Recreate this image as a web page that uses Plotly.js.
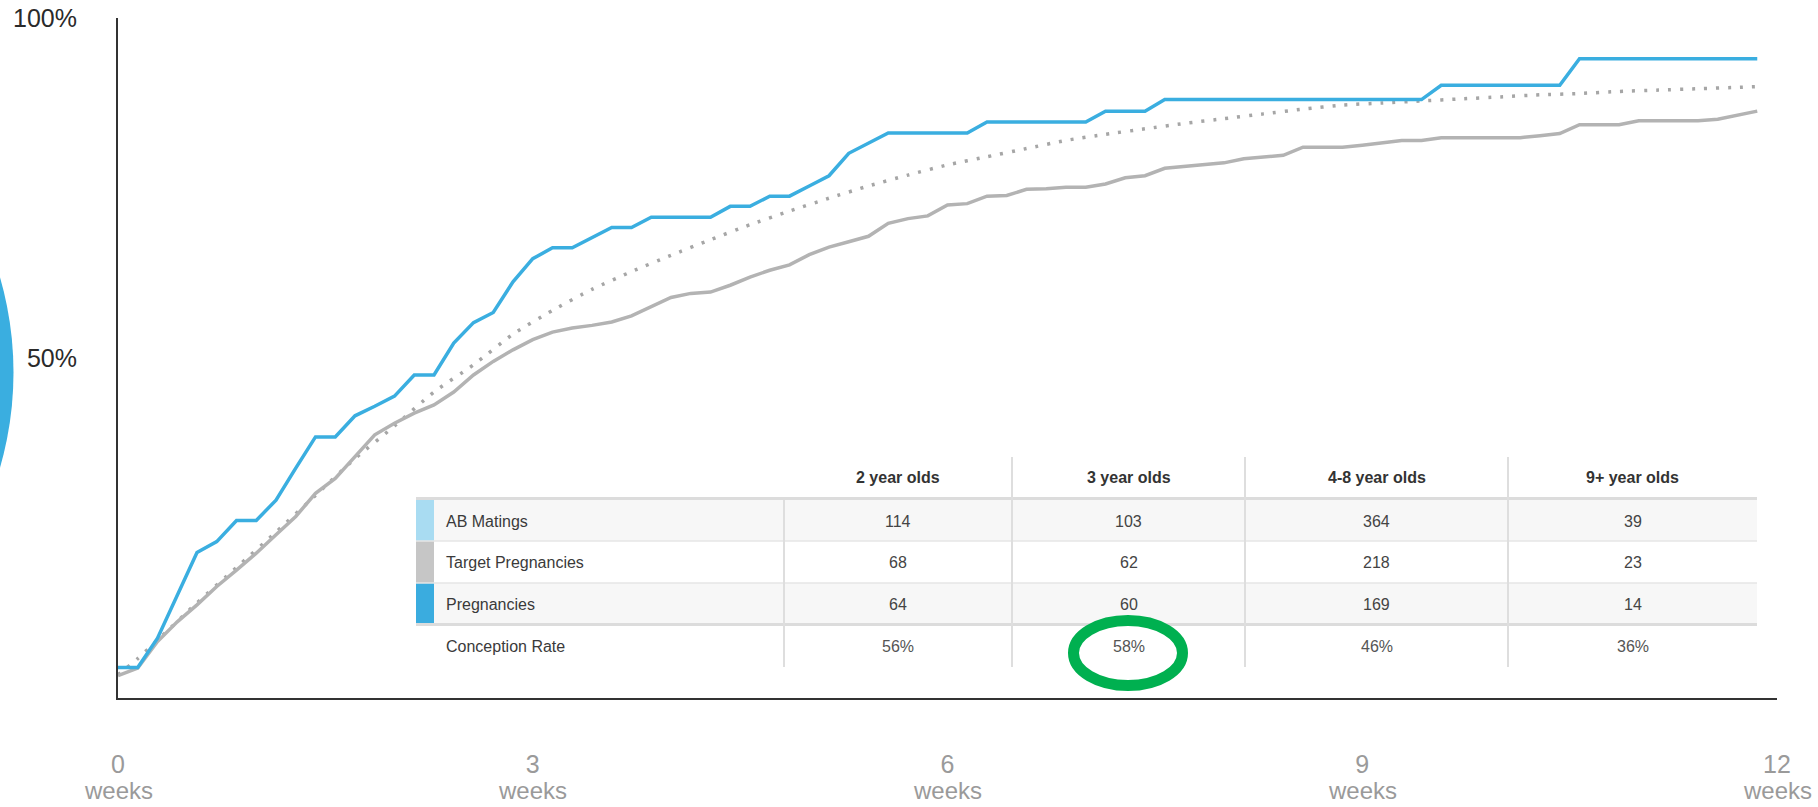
<!DOCTYPE html>
<html>
<head>
<meta charset="utf-8">
<script src="https://cdn.plot.ly/plotly-3.0.1.min.js"></script>
<style>
  html, body { margin: 0; padding: 0; background: #ffffff; }
  #chart { width: 1818px; height: 807px; }
</style>
</head>
<body>
<div id="chart"></div>
<script>
// ---------------- DATA ----------------
// daily cumulative percentages, day 0 .. day 83
const pregnanciesPct = [4.5,4.5,8.8,15.1,21.4,23.0,26.1,26.1,29.1,33.8,
  38.4,38.4,41.5,42.9,44.4,47.5,47.5,52.2,55.2,56.7,
  61.2,64.6,66.2,66.2,67.7,69.2,69.2,70.7,70.7,70.7,
  70.7,72.3,72.3,73.8,73.8,75.3,76.8,80.1,81.6,83.1,
  83.1,83.1,83.1,83.1,84.7,84.7,84.7,84.7,84.7,84.7,
  86.3,86.3,86.3,88.0,88.0,88.0,88.0,88.0,88.0,88.0,
  88.0,88.0,88.0,88.0,88.0,88.0,88.0,90.1,90.1,90.1,
  90.1,90.1,90.1,90.1,94.0,94.0,94.0,94.0,94.0,94.0,
  94.0,94.0,94.0,94.0];

const targetPct = [3.3,4.4,8.3,11.2,13.7,16.4,18.8,21.3,24.0,26.7,
  30.1,32.3,35.5,38.7,40.4,41.9,43.1,45.0,47.5,49.5,
  51.2,52.7,53.8,54.4,54.8,55.3,56.2,57.5,58.9,59.5,
  59.7,60.7,61.9,62.9,63.7,65.2,66.3,67.1,67.9,69.8,
  70.5,70.9,72.5,72.7,73.8,73.9,74.8,74.9,75.1,75.1,
  75.6,76.5,76.8,77.9,78.2,78.5,78.7,79.3,79.5,79.8,
  81.0,81.0,81.0,81.3,81.7,82.0,82.0,82.4,82.4,82.4,
  82.4,82.4,82.7,83.0,84.3,84.3,84.3,84.9,84.9,84.9,
  84.9,85.1,85.7,86.3];

const benchmarkDays = [0,1,2,4,6,8,10,12,14,16,18,20,22,24,26,28,30,32,34,36,38,40,42,
  44,46,48,50,52,54,56,58,60,62,64,66,68,70,72,74,76,78,80,82,83];
const benchmarkPct = [3.4,5.8,8.5,14.0,19.2,24.4,29.8,35.2,40.0,45.0,49.0,53.5,57.0,
  60.1,62.7,65.1,67.4,69.6,71.6,73.5,75.3,76.9,78.4,
  79.6,80.8,82.0,82.9,83.7,84.5,85.2,85.9,86.6,87.2,
  87.5,87.8,88.1,88.4,88.7,88.9,89.2,89.4,89.6,89.8,89.9];

const weekTicks = [0, 3, 6, 9, 12];
const weekTickText = ['0', '3', '6', '9', '12'];
const weekUnit = 'weeks';
const pctTicks = [50, 100];
const pctTickText = ['50%', '100%'];

const ageGroups = ['2 year olds', '3 year olds', '4-8 year olds', '9+ year olds'];
const rowLabels = ['AB Matings', 'Target Pregnancies', 'Pregnancies', 'Conception Rate'];
const abMatings = [114, 103, 364, 39];
const targetPregnancies = [68, 62, 218, 23];
const pregnancies = [64, 60, 169, 14];
const conceptionRate = [56, 58, 46, 36];
const highlightedAgeGroup = '3 year olds';

// ---------------- STYLE / LAYOUT ----------------
const FONT = 'Liberation Sans, Arial, Helvetica, sans-serif';
const BLUE = '#3aaee0';
const GRAY = '#b3b3b3';
const SWATCH = ['#a9dcf2', '#c6c6c6', '#3aacdf', null];

const M = { l: 118, r: 41, t: 18, b: 109 };
const PW = 1818 - M.l - M.r;
const PH = 807 - M.t - M.b;
const px = v => (v - M.l) / PW;            // pixel x -> paper x
const py = v => (M.t + PH - v) / PH;       // pixel y -> paper y

const toWeeks = d => d / 7;
const dayIndex = pregnanciesPct.map((_, i) => i);

const traces = [
  {
    x: benchmarkDays.map(toWeeks), y: benchmarkPct, type: 'scatter', mode: 'lines',
    line: { color: '#a6a6a6', width: 3.5, dash: '3px,9px', shape: 'spline', smoothing: 0.6 },
    hoverinfo: 'skip', showlegend: false
  },
  {
    x: dayIndex.map(toWeeks), y: targetPct, type: 'scatter', mode: 'lines',
    line: { color: GRAY, width: 3.5 }, hoverinfo: 'skip', showlegend: false
  },
  {
    x: dayIndex.map(toWeeks), y: pregnanciesPct, type: 'scatter', mode: 'lines',
    line: { color: BLUE, width: 3.5 }, hoverinfo: 'skip', showlegend: false
  }
];

// table geometry (pixels)
const TB = {
  left: 416, swR: 434, right: 1757,
  headTop: 457, headLine: 498.5,
  rows: [[500, 541], [541, 583], [583, 623], [626, 667]],
  thickLine: 624.5, bottom: 667,
  colEdges: [784, 1012, 1245, 1508, 1757],
  labelX: 444, headY: 477, rowY: [521, 562, 604, 646.5]
};

const shapes = [];
const annotations = [];

// decorative partial circle at far left
shapes.push({ type: 'circle', xref: 'paper', yref: 'paper', layer: 'below',
  x0: px(-671), x1: px(13.5), y0: py(715), y1: py(30),
  fillcolor: BLUE, line: { width: 0 } });

// row shading + swatches
TB.rows.forEach((r, i) => {
  if (i === 0 || i === 2) {
    shapes.push({ type: 'rect', xref: 'paper', yref: 'paper',
      x0: px(TB.swR), x1: px(TB.right), y0: py(r[1]), y1: py(r[0]),
      fillcolor: '#f7f7f7', line: { width: 0 } });
  }
  if (SWATCH[i]) {
    shapes.push({ type: 'rect', xref: 'paper', yref: 'paper',
      x0: px(TB.left), x1: px(TB.swR), y0: py(r[1]), y1: py(r[0]),
      fillcolor: SWATCH[i], line: { width: 0 } });
  }
});
// horizontal rules
const hline = (y, w, c) => shapes.push({ type: 'line', xref: 'paper', yref: 'paper',
  x0: px(TB.left), x1: px(TB.right), y0: py(y), y1: py(y), line: { color: c, width: w } });
hline(TB.headLine, 3, '#dcdcdc');
hline(TB.rows[0][1], 1.5, '#e6e6e6');
hline(TB.rows[1][1], 1.5, '#e6e6e6');
hline(TB.thickLine, 3, '#dcdcdc');
// vertical rules
TB.colEdges.slice(0, 4).forEach((x, i) => {
  shapes.push({ type: 'line', xref: 'paper', yref: 'paper',
    x0: px(x), x1: px(x), y0: py(i === 0 ? TB.rows[0][0] : TB.headTop), y1: py(TB.bottom),
    line: { color: '#dedede', width: 2 } });
});

// header text
ageGroups.forEach((g, j) => {
  const cx = (TB.colEdges[j] + TB.colEdges[j + 1]) / 2;
  annotations.push({ xref: 'paper', yref: 'paper', x: px(cx), y: py(TB.headY),
    xanchor: 'center', yanchor: 'middle', showarrow: false, text: '<b>' + g + '</b>',
    font: { family: FONT, size: 16, color: '#333333' } });
});
// row labels + values
const tableRows = [abMatings, targetPregnancies, pregnancies, conceptionRate.map(v => v + '%')];
rowLabels.forEach((lab, i) => {
  annotations.push({ xref: 'paper', yref: 'paper', x: px(TB.labelX), y: py(TB.rowY[i]),
    xanchor: 'left', yanchor: 'middle', showarrow: false, text: lab,
    font: { family: FONT, size: 16, color: '#3a3a3a' } });
  tableRows[i].forEach((v, j) => {
    const cx = (TB.colEdges[j] + TB.colEdges[j + 1]) / 2;
    annotations.push({ xref: 'paper', yref: 'paper', x: px(cx), y: py(TB.rowY[i]),
      xanchor: 'center', yanchor: 'middle', showarrow: false, text: String(v),
      font: { family: FONT, size: 16, color: i === 3 ? '#555555' : '#444444' } });
  });
});

// green highlight ellipse around the highlighted conception rate
{
  const j = ageGroups.indexOf(highlightedAgeGroup);
  const cx = (TB.colEdges[j] + TB.colEdges[j + 1]) / 2 - 0.5;
  const cy = 653;
  shapes.push({ type: 'circle', xref: 'paper', yref: 'paper',
    x0: px(cx - 54.5), x1: px(cx + 54.5), y0: py(cy + 32.5), y1: py(cy - 32.5),
    line: { color: '#00b050', width: 11 }, fillcolor: 'rgba(0,0,0,0)' });
}

// "weeks" unit under each x tick
weekTicks.forEach(w => {
  annotations.push({ xref: 'x', yref: 'paper', x: w, y: py(790), yshift: 0,
    xanchor: 'center', yanchor: 'middle', showarrow: false, text: weekUnit,
    font: { family: FONT, size: 24, color: '#9a9a9a' } });
});

const layout = {
  width: 1818, height: 807,
  margin: M,
  paper_bgcolor: '#ffffff', plot_bgcolor: '#ffffff',
  font: { family: FONT },
  showlegend: false,
  xaxis: {
    range: [0, 12], tickvals: weekTicks, ticktext: weekTickText,
    showgrid: false, zeroline: false, showline: true, linecolor: '#333333', linewidth: 2,
    ticks: '', ticklabelstandoff: 43,
    tickfont: { family: FONT, size: 25, color: '#9a9a9a' }, fixedrange: true
  },
  yaxis: {
    range: [0, 100], tickvals: pctTicks, ticktext: pctTickText,
    showgrid: false, zeroline: false, showline: true, linecolor: '#333333', linewidth: 2,
    ticks: '', ticklabelstandoff: 34,
    tickfont: { family: FONT, size: 25, color: '#2a2a2a' }, fixedrange: true
  },
  shapes: shapes,
  annotations: annotations
};

Plotly.newPlot('chart', traces, layout, { staticPlot: true, displayModeBar: false });
</script>
</body>
</html>
